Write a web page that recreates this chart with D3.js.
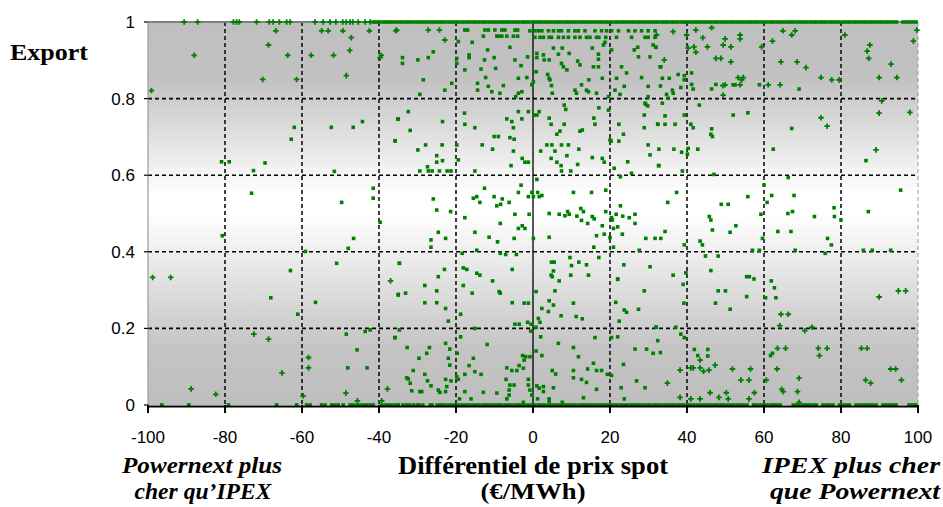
<!DOCTYPE html>
<html><head><meta charset="utf-8">
<script src="https://cdn.jsdelivr.net/npm/d3@7"></script>
<style>html,body{margin:0;padding:0;background:#fff;}svg{display:block;}</style>
</head><body>
<svg id="chart" width="943" height="507"></svg>
<script>
// ---------- DATA ----------
const xTicks = [-100,-80,-60,-40,-20,0,20,40,60,80,100];
const yTicks = [0,0.2,0.4,0.6,0.8,1];
const yTickLabels = ["0","0.2","0.4","0.6","0.8","1"];

// hours fully exported (export share = 1): differential values
const topRowCross = [-90.6,-87.1,-77.8,-77,-76.3,-71.8,-68.5,-67.5,-65.9,-64,-63.1,-56.6,-54.5,-52.7,-51.2,-49.4,-48.5,-47.5,-46.8,-45.4,-43.6,-42.3];
const topRowSquare = [-41.5,-40.7,-39.8,-38.9,-38.1,-37.2,-36.4,-35.5,-34.6,-33.8,-32.9,-32.1,-31.2,-30.3,-29.5,-28.6,-27.8,-26.9,-26.0,-25.2,-24.3,-23.5,-22.6,-21.7,-20.9,-20.0,-19.2,-18.3,-17.4,-16.6,-15.7,-14.9,-14.0,-13.1,-12.3,-11.4,-10.6,-9.7,-8.8,-8.0,-7.1,-6.3,-5.4,-4.5,-3.7,-2.8,-2.0,-1.1,-0.2,0.6,1.5,2.3,3.2,4.1,4.9,5.8,6.6,7.5,8.4,9.2,10.1,10.9,11.8,12.7,13.5,14.4,15.2,16.1,17.0,17.8,18.7,19.5,20.4,21.3,22.1,23.0,23.8,24.7,25.6,26.4,27.3,28.1,29.0,29.9,30.7,31.6,32.4,33.3,34.2,35.0,35.9,36.7,37.6,38.5,39.3,40.2,41.0,41.9,42.8,43.6,44.5,45.3,46.2,47.1,47.9,48.8,49.6,50.5,51.4,52.2,53.1,53.9,54.8,55.7,56.5,57.4,58.2,59.1,60.0,60.8,61.7,62.5,63.4,64.3,65.1,66.0,66.8,67.7,68.6,69.4,70.3,71.1,72.0,72.9,73.7,74.6,75.4,76.3,77.2,78.0,78.9,79.7,80.6,81.5,82.3,83.2,84.0,84.9,85.8,86.6,87.5,88.3,89.2,90.1,90.9,91.8,92.6,93.5,94.4,96.1,96.9,97.8,98.7,99.5];
// hours with no export (export share = 0)
const bottomRow = [-96.4,-89.4,-79.1,-66.6,-61.4,-58.8,-57.9,-54.9,-54,-52.3,-51.5,-50.6,-49.3,-47.5,-46.6,-45.7,-44.9,-44,-43.2,-42.3,-41.5,-39.3,-38.4,-37.6,-36.7,-35.8,-35,-33.8,-32.9,-32,-31,-30,-29.6,-28.6,-26.7,-26.2,-24.9,-24.1,-23.6,-22.7,-21.8,-21.0,-20.1,-19.3,-18.4,-17.5,-16.7,-15.8,-15.0,-14.1,-13.2,-12.4,-11.5,-10.7,-9.8,-8.9,-8.1,-7.2,-6.4,-5.5,-4.6,-3.8,-2.9,-2.1,-1.2,-0.3,0.5,1.4,2.2,3.1,4.0,4.8,5.7,6.5,7.4,8.3,9.1,10.0,10.8,11.7,12.6,13.4,14.3,15.1,16.0,16.9,17.7,18.6,19.4,20.3,21.2,22.0,22.9,23.7,24.6,25.5,26.3,27.2,28.0,28.9,29.8,30.6,31.5,32.3,33.2,34.1,34.9,35.8,36.6,37.5,38.4,39.2,40.1,40.9,41.8,42.7,43.5,44.4,45.2,46.1,47.0,47.8,48.7,49.5,50.4,51.3,52.1,53.0,53.8,54.7,55.6,57.3,58.1,59.0,59.9,60.7,61.6,62.4,63.3,64.2,67.6,68.5,69.3,70.2,71.0,71.9,72.8,73.6,75.3,76.2,77.1,77.9,79.6,80.5,81.4,82.2,83.9,84.8,85.7,86.5,87.4,88.2,89.1,90.9,91.7,92.6,93.4,94.3,97.7,98.6,99.4];

// intermediate hours drawn with a cross marker: [differential, export share]
const crossPoints = [
[-66.8,0.977],[-54.9,0.977],[-53.2,0.977],[-49.4,0.977],[-42.5,0.977],[-35.6,0.977],[-47.2,0.959],[-68.7,0.94],
[-88,0.913],[-63.7,0.913],[-57.6,0.913],[-51.8,0.913],[-47.6,0.926],[-39.7,0.907],[-39.4,0.913],[-48.5,0.86],
[-70.2,0.85],[-61.4,0.85],[-99.1,0.821],[-98.8,0.333],[-94.1,0.333],
[-37,0.324],[-72.5,0.185],[-68.7,0.172],[-58.3,0.124],[-58.3,0.097],[-65.2,0.084],[-88.8,0.042],[-82.4,0.028],
[-59.7,0.024],[-48.6,0.031],[-37.8,0.042],[-45.6,0.011],[-39.3,0.011],
[-35.4,0.979],[-27.2,0.979],[-24.3,0.979],[-22.9,0.953],
[32.1,0.966],[36.4,0.975],[39.9,0.966],[42.3,0.979],[46.4,0.985],[53.8,0.966],[53.8,0.956],[49.9,0.956],[44.1,0.959],
[64.9,0.977],[67.2,0.966],[68.1,0.977],[81,0.966],[99.7,0.979],[62.2,0.95],[98.8,0.95],[87.5,0.94],[86.8,0.924],
[87.2,0.905],[93,0.89],[64.4,0.896],[68.6,0.896],[70.9,0.881],[41.8,0.935],[40.3,0.932],[45.3,0.935],[49.4,0.94],
[51.4,0.935],[42.3,0.921],[59.4,0.935],[34.1,0.901],[47.5,0.905],[48.8,0.905],[51.4,0.896],[53.3,0.855],[54.6,0.855],
[54.2,0.849],[49.3,0.834],[49.9,0.836],[53.8,0.836],[49.4,0.809],[61.1,0.836],[64.2,0.836],[74.8,0.855],[77.6,0.849],
[79.5,0.849],[89.9,0.855],[94.5,0.855],[90.6,0.794],[74.8,0.75],[76.4,0.728],[89.9,0.762],[97.9,0.764],
[89.1,0.666],
[94.9,0.298],[96.8,0.298],[89.9,0.282],[64.4,0.237],[66.3,0.237],[64.1,0.207],[72.5,0.203],[70.6,0.194],
[63.5,0.148],[65.6,0.148],[74.1,0.148],[76.4,0.148],[74.4,0.129],[85.3,0.148],[86.8,0.148],
[38.2,0.091],[41,0.097],[41.6,0.097],[43.4,0.097],[44.3,0.088],[45.7,0.091],[51.8,0.094],[56.5,0.094],[63.4,0.094],
[92.9,0.094],[94.2,0.094],[34.9,0.057],[54,0.065],[56.1,0.065],[60.6,0.065],[69.1,0.07],[86.4,0.065],[87.7,0.057],
[95.7,0.065],[64.6,0.041],[65,0.035],[68.7,0.035],[46,0.032],[50.2,0.032],[57.5,0.032],[38.2,0.02],[41,0.016],
[43.4,0.016],[48.3,0.02],[50.7,0.016],[56.1,0.016],[69.1,0.007],[43.4,0.117],[47.3,0.104]
];

// intermediate hours drawn with a square marker: [differential, export share]
const squarePoints = [
[-62,0.725],[-52.4,0.725],[-46.7,0.725],[-44.3,0.74],[-35,0.746],[-62.8,0.694],[-35.8,0.69],
[-80.9,0.635],[-78.9,0.635],[-69.6,0.632],[-72.6,0.612],[-51.6,0.61],[-73.1,0.553],[-41.5,0.566],[-41.5,0.54],
[-49.7,0.529],[-39.7,0.477],[-80.7,0.442],[-46.6,0.435],[-48,0.409],[-59.1,0.401],[-51,0.37],[-34.7,0.37],[-63,0.351],
[-35,0.289],[-68.1,0.28],[-56.5,0.268],[-61.1,0.237],[-48.5,0.185],[-43.6,0.192],[-42.3,0.196],[-35.9,0.176],[-45.7,0.144],
[-48.1,0.097],[-43.1,0.097],
[-12.5,0.979],[-11.6,0.979],[-9.9,0.979],[-8.1,0.979],[-7.3,0.979],[-4.7,0.979],[-4,0.979],[-17.7,0.979],[-17,0.979],
[-12.9,0.963],[-9.4,0.963],[-9,0.963],[-8.1,0.963],[-6.8,0.963],[-5.1,0.963],[-4,0.963],
[-0.8,0.977],[0.5,0.977],[1.4,0.977],[2.3,0.977],[4,0.977],[5.3,0.977],[6.6,0.977],[7.4,0.977],[9.2,0.977],[10.9,0.977],
[11.8,0.977],[13.5,0.977],[16.1,0.977],[17.8,0.977],[19.1,0.977],[20.4,0.977],[22.2,0.977],[24.8,0.977],[26.5,0.977],
[28.2,0.977],[29.9,0.977],[31.7,0.977],
[0.5,0.96],[1.8,0.96],[2.7,0.96],[4.2,0.96],[4.8,0.96],[6.6,0.96],[7.9,0.96],[9.2,0.96],[10.9,0.96],[12.2,0.96],
[13.9,0.96],[14.8,0.96],[16.5,0.96],[17.1,0.96],[18.3,0.94],[18.9,0.96],[21.7,0.96],[25.6,0.96],[29.1,0.96],[29.9,0.96],[31.7,0.96],
[-25.9,0.922],[-33.9,0.907],[-33.9,0.892],[-29.9,0.901],[-27.2,0.907],[-28.5,0.849],[-29.4,0.811],[-22.9,0.822],
[-21.1,0.84],[-19.8,0.905],[-19.8,0.892],[-19.4,0.949],[-17.7,0.875],[-16.6,0.914],[-16.6,0.907],[-15.8,0.947],
[-14.4,0.84],[-14.4,0.822],[-13.5,0.877],[-12.6,0.901],[-12.3,0.855],[-11.8,0.927],[-11.6,0.832],[-10.7,0.818],
[-10.1,0.907],[-9.7,0.879],[-8.6,0.814],[-7.7,0.834],[-6,0.934],[-4.7,0.901],[-3.8,0.853],[-3.1,0.886],[-4.5,0.805],
[-3.8,0.814],[-2.9,0.818],[-1.6,0.855],[-1.4,0.909],[-0.3,0.836],[0.1,0.844],[1,0.918],[1,0.907],[0.8,0.87],[2.7,0.914],
[2.9,0.901],[4.2,0.901],[3.8,0.863],[4.2,0.853],[4.4,0.849],[4.8,0.834],[5,0.814],[5.3,0.932],[6.6,0.916],[7.6,0.932],
[7.4,0.892],[7.9,0.883],[8.8,0.875],[9.4,0.918],[10.9,0.822],[11.6,0.898],[11.3,0.814],[12.2,0.888],[12.6,0.836],
[13.9,0.822],[14.4,0.818],[14.5,0.849],[15.4,0.932],[15.7,0.883],[17,0.883],[16.5,0.814],[17,0.916],[17,0.903],
[18,0.853],[18.7,0.947],[19.6,0.805],[20.4,0.927],[21.3,0.822],[21.7,0.853],[22.6,0.811],[23,0.883],[23.7,0.832],
[24.3,0.867],[26.3,0.927],[27.2,0.934],[27.4,0.909],[28.2,0.855],[29.9,0.832],[30.4,0.909],[31.2,0.94],[31.9,0.934],
[33,0.883],[29.9,0.805],[29.1,0.788],
[-32.4,0.766],[-35.1,0.747],[-23.5,0.74],[-31.9,0.717],[-17.8,0.762],[-17.7,0.733],[-15.1,0.724],[-10.1,0.701],[-9,0.701],
[-6.8,0.747],[-5.5,0.74],[-5.1,0.724],[-6,0.698],[-4.9,0.694],[-3.8,0.766],[-2.9,0.747],[-1.2,0.766],[0.3,0.757],[1,0.757],
[1.6,0.766],[4.2,0.749],[4.7,0.733],[6.2,0.707],[7,0.715],[8.1,0.783],[8.5,0.772],[8.1,0.733],[12.2,0.715],[12.8,0.718],
[15.8,0.749],[16.1,0.733],[17.1,0.776],[19.6,0.77],[20.3,0.689],[22.3,0.689],[22.3,0.733],[23.5,0.707],[28.9,0.757],
[29.3,0.785],[29.8,0.781],[32.4,0.733],[28.9,0.724],[-27.9,0.679],[-23.6,0.679],[-19.8,0.679],[-13.2,0.679],[3.6,0.679],
[4.9,0.679],[7.4,0.679],[9.2,0.679],[-35.8,0.689],[20,0.692],[29.9,0.679],
[31.9,0.934],[33.2,0.883],[33.6,0.853],[35.4,0.853],[37.7,0.863],[39.3,0.86],[41.2,0.867],[33.1,0.833],[36.2,0.822],
[36.4,0.814],[38.4,0.829],[39.3,0.849],[41.2,0.837],[41.6,0.825],[46.4,0.825],[47.5,0.837],[52,0.836],[52.5,0.836],
[58.8,0.836],[69.1,0.825],[34.7,0.811],[35.1,0.801],[33.6,0.788],[43.2,0.783],[34.3,0.755],[39.3,0.757],[52,0.757],
[55.8,0.763],[67.2,0.722],[32.4,0.733],[34.3,0.733],[36.9,0.733],[41,0.733],[41.6,0.724],[46.4,0.721],[46.2,0.707],
[46.6,0.701],[40.3,0.67],[42.8,0.668],[62.4,0.668],[36.6,0.668],[32.7,0.668],
[-29.9,0.666],[-10.5,0.668],[-5.1,0.663],[2,0.663],[5.7,0.663],[11.9,0.668],[-25,0.651],[-25,0.634],[-23.5,0.638],
[-19.4,0.64],[-27.4,0.622],[-29.4,0.611],[-27.2,0.611],[-26.2,0.611],[-24.3,0.611],[-22.3,0.611],[-21.3,0.611],
[-15.1,0.611],[-5.7,0.625],[-2.8,0.644],[-2.1,0.634],[-1.2,0.634],[4.7,0.644],[6.2,0.634],[7.3,0.625],[7.4,0.611],
[8.8,0.651],[9.8,0.611],[11.6,0.628],[15.4,0.646],[18,0.644],[18.5,0.634],[21.1,0.618],[24.6,0.635],[25.6,0.605],
[22.7,0.596],[30.4,0.653],[32.6,0.625],[1,0.589],[-3.1,0.574],[-12.6,0.566],[-3.8,0.555],[-0.3,0.555],[1.2,0.555],
[-1.2,0.544],[0.1,0.544],[1.6,0.544],[2.3,0.547],[10.5,0.555],[15.2,0.555],[18.9,0.561],[-14.6,0.544],[-15.5,0.54],
[-10.1,0.544],[-8,0.538],[-25.9,0.538],[-13.8,0.529],[-6.2,0.529],[-9.4,0.52],[-8.4,0.524],[-25,0.509],[-21.4,0.505],
[-17.7,0.489],[-4.7,0.498],[-1,0.498],[4.2,0.5],[6.8,0.498],[8.3,0.494],[9,0.505],[9.4,0.498],[11.4,0.493],[12.4,0.513],
[13.1,0.505],[15.4,0.492],[15.9,0.486],[12.6,0.482],[14.2,0.474],[18.9,0.505],[20.4,0.489],[20.6,0.483],[21.6,0.498],
[22.7,0.52],[23.3,0.493],[25,0.489],[26.5,0.498],[26.5,0.474],[-8.5,0.474],[-2.8,0.468],[-3.8,0.461],[-2.1,0.461],
[18,0.468],[20.9,0.461],[22,0.465],[-24.6,0.451],[-15.1,0.451],[-22.7,0.435],[-11.4,0.438],[-4.9,0.435],[0.1,0.435],
[4.2,0.438],[16.5,0.442],[18.5,0.446],[20,0.437],[23.2,0.446],[29.3,0.435],[31.7,0.435],[-26.5,0.431],[-9.2,0.426],
[-26.5,0.412],[20.9,0.412],[15.8,0.412],[-18.4,0.396],[-14.6,0.404],[-8.5,0.396],[-7.1,0.393],[-4.3,0.393],[9.6,0.385],
[17.1,0.385],[27.6,0.404],[-34.7,0.37],[4.8,0.373],[5.5,0.373],[11.9,0.373],[10,0.364],[13.9,0.366],[23.6,0.366],
[30.4,0.361],[-23,0.354],[-18.1,0.358],[-17.2,0.354],[-5.4,0.354],[5.3,0.35],[-14.6,0.344],[-13.8,0.339],[-24.6,0.335],
[4.7,0.339],[5,0.335],[9.8,0.339],[14.4,0.339],[22,0.329],
[38.6,0.66],[40.1,0.655],[32.7,0.625],[86.5,0.638],[38.8,0.611],[47,0.602],[66.3,0.594],[37.3,0.555],[60,0.574],
[62,0.547],[67.8,0.547],[55.8,0.544],[95.5,0.561],[35,0.529],[48.9,0.524],[50.7,0.524],[60.8,0.529],[78.2,0.515],
[67.4,0.505],[66.2,0.5],[87.1,0.505],[45.8,0.492],[46.2,0.483],[59.2,0.498],[73.1,0.492],[78.3,0.492],[80,0.483],
[52.7,0.468],[46.6,0.457],[34.3,0.453],[63.6,0.453],[67,0.453],[51.2,0.451],[33.2,0.435],[59.6,0.435],[76.5,0.435],
[43.4,0.428],[44,0.418],[39.3,0.418],[77.5,0.418],[57,0.404],[58.8,0.404],[68.1,0.404],[75.9,0.396],[85.8,0.404],
[88.1,0.404],[92.9,0.404],[44.8,0.389],[48.1,0.389],[36.4,0.339],[39.7,0.345],[46.2,0.351],[55.5,0.335],[56.2,0.335],
[57.4,0.329],
[-10.5,0.324],[6.8,0.324],[22,0.328],[-28.1,0.312],[-18.1,0.312],[0.8,0.296],[-8.8,0.296],[-8.5,0.292],[-15.8,0.292],
[-33.1,0.292],[-35,0.287],[-25,0.298],[5.7,0.298],[28.9,0.298],[4.2,0.272],[5.3,0.261],[-28.1,0.267],[-25,0.267],
[-5.4,0.267],[-2.3,0.266],[-1.2,0.266],[10.5,0.266],[21.5,0.268],[-22.7,0.252],[2.3,0.252],[4,0.244],[23.7,0.248],
[24.3,0.242],[27.4,0.25],[-18.8,0.237],[7.3,0.233],[11.2,0.231],[12.8,0.225],[1.4,0.226],[-22,0.219],[22.4,0.219],
[1.8,0.216],[-1.4,0.216],[-4.7,0.211],[-3.6,0.211],[-0.5,0.211],[0.8,0.203],[-0.6,0.193],[-15.1,0.2],[-34.7,0.196],
[32,0.203],[-18.8,0.178],[2,0.178],[-35.8,0.176],[-22.7,0.161],[-11.9,0.158],[6.6,0.161],[16.1,0.176],[20.4,0.176],
[22,0.178],[-32.7,0.15],[-26.9,0.15],[-21.6,0.146],[10.5,0.15],[26.5,0.146],[29.5,0.146],[31.2,0.135],[-27.6,0.135],
[-19.7,0.135],[-2.7,0.129],[-1.9,0.126],[-0.8,0.126],[-2.3,0.117],[0.8,0.141],[2.3,0.129],[-29.6,0.122],[-22,0.122],
[-15.5,0.122],[11.8,0.126],[15.7,0.109],[-21.6,0.104],[-16.6,0.103],[-6.8,0.097],[-3.6,0.103],[-2.5,0.096],[23.5,0.106],
[-15.1,0.087],[-31.1,0.09],[-5.5,0.09],[-4.2,0.09],[5,0.09],[10.5,0.09],[14.2,0.094],[16.5,0.09],[17.8,0.09],[5.9,0.081],
[-28.1,0.08],[-17.7,0.08],[-13.5,0.08],[19.3,0.08],[20.4,0.077],[-32.8,0.071],[-32.4,0.068],[-19.8,0.074],[-22.7,0.067],
[-21.3,0.063],[-27.4,0.063],[-19.4,0.067],[-7,0.067],[-1.2,0.067],[10.5,0.071],[12.6,0.067],[13.9,0.059],[26.9,0.063],
[-31.9,0.057],[-26.5,0.05],[-22.4,0.048],[-4.9,0.052],[-6,0.052],[-1.2,0.052],[1,0.05],[2.7,0.048],[5.3,0.045],
[16.5,0.041],[22.9,0.045],[29.1,0.045],[-31.5,0.037],[-29.4,0.035],[-28.9,0.035],[-24.6,0.039],[-24.2,0.033],
[-22.7,0.035],[-17.7,0.035],[-12.9,0.033],[-9.4,0.031],[-6.2,0.039],[-6.2,0.026],[-0.8,0.039],[-0.3,0.026],[1.6,0.044],
[2.7,0.035],[-19.1,0.016],[-16.1,0.016],[-6.8,0.016],[1.2,0.016],[4.2,0.016],[4.2,0.01],[13.1,0.019],[23.7,0.016],
[-2.5,0.007],[7.6,0.007],
[39,0.315],[48.1,0.298],[50,0.298],[61.9,0.324],[62.7,0.306],[55.5,0.283],[60.4,0.28],[63.1,0.28],[39.2,0.266],
[47.4,0.266],[51.2,0.25],[31.9,0.203],[37.1,0.203],[38.4,0.185],[39.3,0.176],[32.4,0.168],[33.1,0.137],[41.9,0.145],
[45.4,0.145],[42.8,0.129],[45.4,0.128],[62.2,0.135],[61.7,0.129]
];

// ---------- LAYOUT ----------
const W = 943, H = 507;
const m = {left:148, right:918, top:22, bottom:405};
const svg = d3.select("#chart");
const x = d3.scaleLinear().domain([-100,100]).range([m.left, m.right]);
const y = d3.scaleLinear().domain([0,1]).range([m.bottom, m.top]);
const green = "#008000";

// background gradient
const defs = svg.append("defs");
const grad = defs.append("linearGradient").attr("id","bg").attr("x1",0).attr("x2",0).attr("y1",0).attr("y2",1);
[[0,"#bfbfbf"],[0.15,"#c2c2c2"],[0.45,"#ffffff"],[0.5,"#ffffff"],[0.85,"#c4c4c4"],[1,"#bebebe"]]
  .forEach(s => grad.append("stop").attr("offset", s[0]).attr("stop-color", s[1]));
svg.append("rect").attr("x",m.left).attr("y",m.top).attr("width",m.right-m.left).attr("height",m.bottom-m.top)
  .attr("fill","url(#bg)");

// gridlines
const g = svg.append("g");
g.selectAll("line.hg").data(yTicks.filter(v => v>0 && v<1)).join("line")
  .attr("x1",m.left).attr("x2",m.right).attr("y1",d=>y(d)).attr("y2",d=>y(d))
  .attr("stroke","#000").attr("stroke-width",1.6).attr("stroke-dasharray","4,3");
g.selectAll("line.vg").data(xTicks.filter(v => v>-100 && v<100 && v!==0)).join("line")
  .attr("y1",m.top).attr("y2",m.bottom).attr("x1",d=>x(d)).attr("x2",d=>x(d))
  .attr("stroke","#111").attr("stroke-width",1.6).attr("stroke-dasharray","4,3");
g.append("line").attr("x1",x(0)).attr("x2",x(0)).attr("y1",m.top).attr("y2",m.bottom)
  .attr("stroke","#000").attr("stroke-width",1.3);
// right edge
g.append("line").attr("x1",m.right).attr("x2",m.right).attr("y1",m.top).attr("y2",m.bottom)
  .attr("stroke","#999").attr("stroke-width",1).attr("stroke-dasharray","4,3");
// top border
g.append("line").attr("x1",m.left).attr("x2",m.right).attr("y1",m.top).attr("y2",m.top)
  .attr("stroke","#808080").attr("stroke-width",2);
// left axis
g.append("line").attr("x1",m.left).attr("x2",m.left).attr("y1",m.top).attr("y2",m.bottom)
  .attr("stroke","#9a9a9a").attr("stroke-width",1.2);
// y ticks
g.selectAll("line.yt").data(yTicks).join("line")
  .attr("x1",m.left-4).attr("x2",m.left).attr("y1",d=>y(d)).attr("y2",d=>y(d))
  .attr("stroke","#000").attr("stroke-width",1.2);

// ---------- MARKS ----------
const pts = svg.append("g");
const sq = 3.6;
const allSquares = squarePoints.concat(topRowSquare.map(v=>[v,1]), bottomRow.map(v=>[v,0]));
pts.selectAll("rect.p").data(allSquares).join("rect")
  .attr("x",d=>x(d[0])-sq/2).attr("y",d=>y(d[1])-sq/2).attr("width",sq).attr("height",sq)
  .attr("fill",green);
const allCross = crossPoints.concat(topRowCross.map(v=>[v,1]));
const cs = 2.8;
pts.selectAll("path.c").data(allCross).join("path")
  .attr("d",d=>{const cx=x(d[0]), cy=y(d[1]); return `M${cx-cs},${cy}H${cx+cs}M${cx},${cy-cs}V${cy+cs}`;})
  .attr("stroke",green).attr("stroke-width",1.8).attr("fill","none");

// bottom axis
svg.append("line").attr("x1",m.left).attr("x2",m.right).attr("y1",m.bottom+1.5).attr("y2",m.bottom+1.5)
  .attr("stroke","#000").attr("stroke-width",2);
svg.selectAll("line.xt").data(xTicks).join("line")
  .attr("x1",d=>x(d)).attr("x2",d=>x(d)).attr("y1",m.bottom).attr("y2",m.bottom+8)
  .attr("stroke","#000").attr("stroke-width",2);

// ---------- TEXT ----------
const sans = "'Liberation Sans', Arial, sans-serif";
const serif = "'Liberation Serif', 'Times New Roman', serif";
svg.selectAll("text.yl").data(yTicks).join("text")
  .attr("x",135).attr("y",d=>y(d)+6).attr("text-anchor","end")
  .attr("font-family",sans).attr("font-size",17).attr("fill","#000")
  .text((d,i)=>yTickLabels[i]);
svg.selectAll("text.xl").data(xTicks).join("text")
  .attr("x",d=>x(d)).attr("y",443).attr("text-anchor","middle")
  .attr("font-family",sans).attr("font-size",17).attr("fill","#000")
  .text(d=>d);

function label(txt, xx, yy, anchor, size, style, len){
  const t = svg.append("text").attr("x",xx).attr("y",yy).attr("text-anchor",anchor)
    .attr("font-family",serif).attr("font-size",size).attr("font-weight","bold")
    .attr("font-style",style).attr("fill","#000").text(txt);
  if(len) t.attr("textLength",len).attr("lengthAdjust","spacingAndGlyphs");
}
label("Export", 10, 60, "start", 23, "normal", 78);
label("Powernext plus", 202, 473, "middle", 24, "italic", 160);
label("cher qu’IPEX", 203, 499, "middle", 24, "italic", 137);
label("Différentiel de prix spot", 533, 474, "middle", 26, "normal", 270);
label("(€/MWh)", 533, 499, "middle", 24, "normal", 105);
label("IPEX plus cher", 940, 473, "end", 24, "italic", 178);
label("que Powernext", 940, 499, "end", 24, "italic", 170);
</script>
</body></html>
